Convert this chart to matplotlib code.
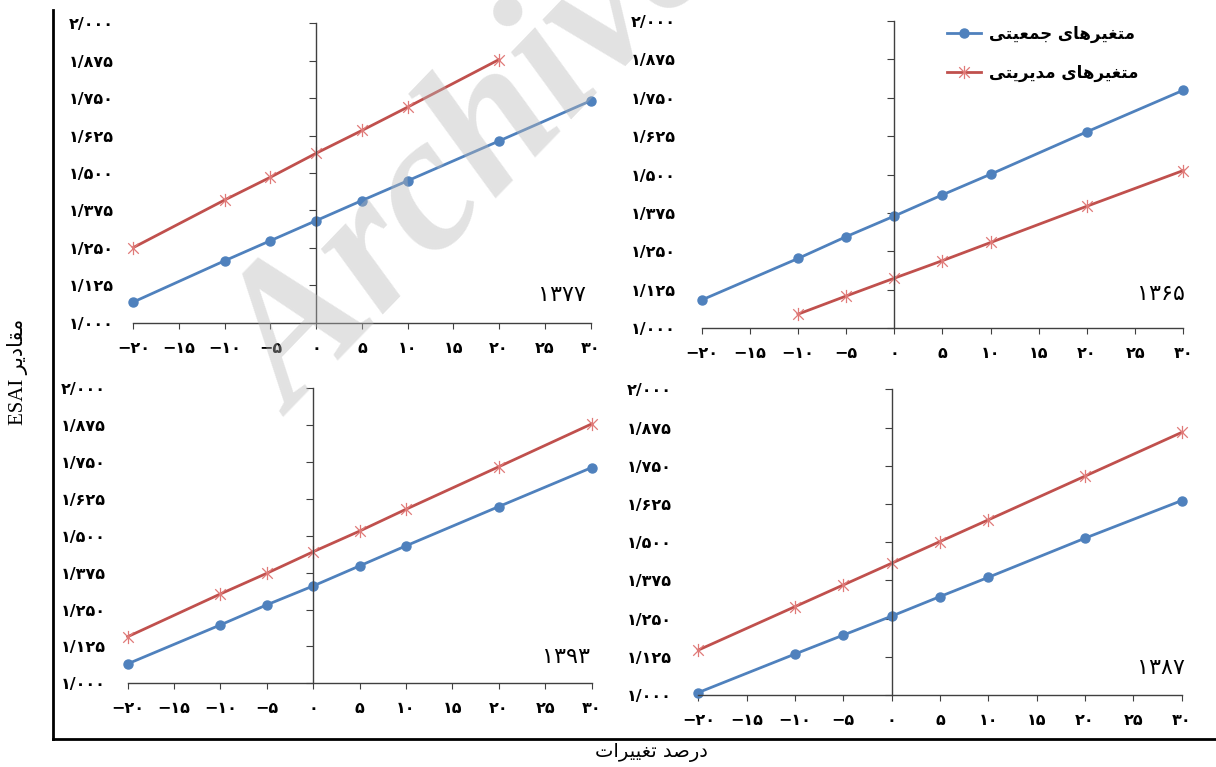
import matplotlib
matplotlib.use("Agg")
import matplotlib.pyplot as plt
from matplotlib.path import Path

# ---- data ----
x_ticks = [-20, -15, -10, -5, 0, 5, 10, 15, 20, 25, 30]
y_ticks = [1.0, 1.125, 1.25, 1.375, 1.5, 1.625, 1.75, 1.875, 2.0]

x_pts = [-20, -10, -5, 0, 5, 10, 20, 30]

blue_1377 = [1.069, 1.207, 1.274, 1.341, 1.408, 1.474, 1.607, 1.741]
red_1377_x = [-20, -10, -5, 0, 5, 10, 20]
red_1377 = [1.251, 1.410, 1.486, 1.566, 1.642, 1.720, 1.879]

blue_1365 = [1.092, 1.227, 1.298, 1.365, 1.434, 1.501, 1.639, 1.774]
red_1365_x = [-10, -5, 0, 5, 10, 20, 30]
red_1365 = [1.046, 1.105, 1.163, 1.220, 1.279, 1.397, 1.513]

blue_1393 = [1.066, 1.198, 1.266, 1.330, 1.398, 1.466, 1.599, 1.731]
red_1393 = [1.158, 1.303, 1.373, 1.446, 1.516, 1.590, 1.734, 1.879]

blue_1387 = [1.008, 1.134, 1.196, 1.258, 1.322, 1.385, 1.513, 1.636]
red_1387 = [1.147, 1.289, 1.360, 1.431, 1.502, 1.573, 1.716, 1.859]

years = ["1377", "1365", "1393", "1387"]
label_pop = "متغیرهای جمعیتی"
label_mgr = "متغیرهای مدیریتی"
x_title = "درصد تغییرات"
y_title = "مقادیر"

BLUE = "#4f81bd"
RED = "#c0504d"
RED_MK = "#e07a78"
AXC = "#404040"

# minimal arabic shaping (presentation forms) + visual reordering
FORMS = {  # isolated, final, initial, medial
    "ا": ("\uFE8D", "\uFE8E", None, None),
    "ت": ("\uFE95", "\uFE96", "\uFE97", "\uFE98"),
    "ج": ("\uFE9D", "\uFE9E", "\uFE9F", "\uFEA0"),
    "د": ("\uFEA9", "\uFEAA", None, None),
    "ر": ("\uFEAD", "\uFEAE", None, None),
    "ص": ("\uFEB9", "\uFEBA", "\uFEBB", "\uFEBC"),
    "ع": ("\uFEC9", "\uFECA", "\uFECB", "\uFECC"),
    "غ": ("\uFECD", "\uFECE", "\uFECF", "\uFED0"),
    "ق": ("\uFED5", "\uFED6", "\uFED7", "\uFED8"),
    "م": ("\uFEE1", "\uFEE2", "\uFEE3", "\uFEE4"),
    "ه": ("\uFEE9", "\uFEEA", "\uFEEB", "\uFEEC"),
    "ی": ("\uFEEF", "\uFEF0", "\uFEF3", "\uFEF4"),
}


def shape(s):
    out = []
    for i, ch in enumerate(s):
        if ch not in FORMS:
            out.append(ch)
            continue
        prev = s[i - 1] if i > 0 else ""
        nxt = s[i + 1] if i + 1 < len(s) else ""
        jp = prev in FORMS and FORMS[prev][2] is not None
        jn = nxt in FORMS and FORMS[ch][2] is not None
        iso, fin, ini, med = FORMS[ch]
        if jp and jn:
            out.append(med)
        elif jp:
            out.append(fin)
        elif jn:
            out.append(ini)
        else:
            out.append(iso)
    return "".join(reversed(out))


FA = str.maketrans("0123456789.-", "۰۱۲۳۴۵۶۷۸۹/−")


def fa(s):
    return str(s).translate(FA)


star = Path([(-1, -1), (1, 1), (-1, 1), (1, -1), (0, -1.25), (0, 1.25)],
            [Path.MOVETO, Path.LINETO] * 3)

W, H = 1216, 767
fig = plt.figure(figsize=(W / 100, H / 100), dpi=100)


def px_rect(x0, x1, y0, y1):
    return [x0 / W, 1 - y1 / H, (x1 - x0) / W, (y1 - y0) / H]


# outer L frame
frame = fig.add_axes(px_rect(52.7, W + 5, 10, 739.3), zorder=0)
frame.set_facecolor("none")
for s in ["top", "right"]:
    frame.spines[s].set_visible(False)
for s in ["left", "bottom"]:
    frame.spines[s].set_linewidth(2)
    frame.spines[s].set_color("black")
frame.set_xticks([])
frame.set_yticks([])

panels = [
    (px_rect(133.3, 590.5, 23.3, 322.7), x_pts, blue_1377, red_1377_x, red_1377, years[0], 14, (0.99, 0.093)),
    (px_rect(701.7, 1183.3, 20.7, 328.3), x_pts, blue_1365, red_1365_x, red_1365, years[1], 19, (1.003, 0.11)),
    (px_rect(127.7, 591.5, 388.3, 683.3), x_pts, blue_1393, x_pts, red_1393, years[2], 16, (0.997, 0.089)),
    (px_rect(698.3, 1181.7, 389.3, 695), x_pts, blue_1387, x_pts, red_1387, years[3], 19, (1.007, 0.088)),
]

axes = []
for rect, bx, by, rx, ry, year, pad, ypos in panels:
    ax = fig.add_axes(rect, zorder=2)
    ax.set_facecolor("none")
    ax.plot(bx, by, color=BLUE, lw=2, marker="o", ms=6.5, clip_on=False,
            label=shape(label_pop))
    ax.plot(rx, ry, color=RED, lw=2, marker=star, ms=9.5, mew=0.9,
            mec=RED_MK, clip_on=False, label=shape(label_mgr))
    ax.set_xlim(-20, 30)
    ax.set_ylim(1.0, 2.0)
    ax.spines["top"].set_visible(False)
    ax.spines["right"].set_visible(False)
    ax.spines["left"].set_position(("data", 0))
    for s in ["left", "bottom"]:
        ax.spines[s].set_color(AXC)
        ax.spines[s].set_linewidth(1)
    ax.set_xticks(x_ticks, [fa(v) for v in x_ticks], fontsize=11.5, fontweight="bold")
    ax.tick_params(axis="x", direction="out", length=4, color=AXC, pad=9)
    ax.set_yticks(y_ticks)
    ax.tick_params(axis="y", direction="out", length=5, color=AXC, labelleft=False)
    sec = ax.secondary_yaxis("left")
    sec.spines["left"].set_visible(False)
    sec.set_yticks(y_ticks, [fa(f"{v:.3f}") for v in y_ticks], fontsize=11.5, fontweight="bold")
    sec.tick_params(length=0, pad=pad)
    ax.text(ypos[0], ypos[1], fa(year), transform=ax.transAxes, ha="right",
            va="center", fontsize=16)
    axes.append(ax)

axes[1].legend(loc="upper left", bbox_to_anchor=(0.51, 0.985), frameon=False,
               borderaxespad=0, borderpad=0, handlelength=2.0, handletextpad=0.5,
               labelspacing=1.2, prop={"size": 12, "weight": "bold"})

fig.text(651 / W, 1 - 753 / H, shape(x_title), ha="center", va="center", fontsize=14)
fig.text(18 / W, 1 - 372 / H, "ESAI " + shape(y_title), rotation=90, ha="center",
         va="center", fontsize=15, family=["Liberation Serif", "DejaVu Sans"])

# watermark
fig.text(478 / W, 1 - 160 / H, "Archive", rotation=46, ha="center", va="center",
         fontsize=140, family="Liberation Serif", fontweight="bold",
         style="italic", color="#b8b8b8", alpha=0.4, zorder=10)

fig.savefig("out.png", dpi=100)
